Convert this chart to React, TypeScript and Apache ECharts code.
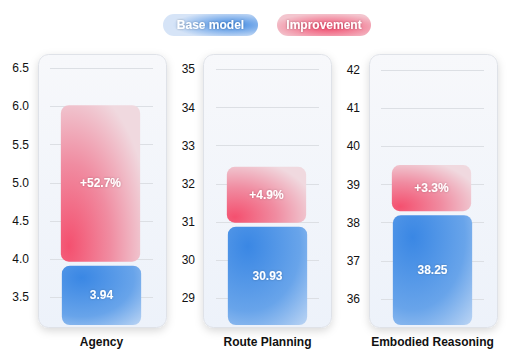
import React, { useEffect, useRef } from 'react';
import * as echarts from 'echarts';

const categories = ['Agency', 'Route Planning', 'Embodied Reasoning'];
const baseValues = [3.94, 30.93, 38.25];
const improvementPct = [52.7, 4.9, 3.3];
const yTicks = [
  [3.5, 4.0, 4.5, 5.0, 5.5, 6.0, 6.5],
  [29, 30, 31, 32, 33, 34, 35],
  [36, 37, 38, 39, 40, 41, 42],
];
const yMin = [3.137, 28.3, 35.32];
const yMax = [6.661, 35.35, 42.37];
const tickDecimals = [1, 0, 0];
const legendNames = ['Base model', 'Improvement'];

const FONT = '"Liberation Sans", Arial, Helvetica, sans-serif';

const gridLeft = [50, 216, 381];
const gridWidth = 103;
const gridTop = 56;
const gridHeight = 269;
const cardLeft = [38, 203, 369];
const cardWidth = 128;
const cardTop = 54;
const cardHeight = 273;

const blueFill = {
  type: 'radial', x: 0.25, y: 0.2, r: 1.1,
  colorStops: [
    { offset: 0, color: '#3a87e4' },
    { offset: 0.6, color: '#68a4ea' },
    { offset: 1, color: '#bcd5f4' },
  ],
};
const redFill = {
  type: 'radial', x: 0.1, y: 0.9, r: 1.05,
  colorStops: [
    { offset: 0, color: '#f4506f' },
    { offset: 0.5, color: '#f08ca1' },
    { offset: 1, color: '#f0d9df' },
  ],
};

function barLabel(text: string, cx: number, cy: number) {
  return {
    type: 'text',
    style: {
      text, x: cx, y: cy, align: 'center', verticalAlign: 'middle',
      fill: '#ffffff', fontSize: 12, fontWeight: 'bold', fontFamily: FONT,
      textShadowColor: 'rgba(0,0,0,0.25)', textShadowBlur: 2,
    },
  };
}

export default function App() {
  const ref = useRef<HTMLDivElement>(null);
  useEffect(() => {
    if (!ref.current) return;
    const chart = echarts.init(ref.current, null, { renderer: 'svg' });

    const grids: any[] = [];
    const xAxes: any[] = [];
    const yAxes: any[] = [];
    const series: any[] = [];
    const graphics: any[] = [];

    categories.forEach((cat, i) => {
      grids.push({ left: gridLeft[i], width: gridWidth, top: gridTop, height: gridHeight, containLabel: false });
      xAxes.push({
        type: 'category', gridIndex: i, data: [cat],
        axisLine: { show: false }, axisTick: { show: false },
        axisLabel: { fontSize: 12, fontWeight: 'bold', color: '#111111', fontFamily: FONT, margin: 11 },
        z: 3,
      });
      yAxes.push({
        type: 'value', gridIndex: i, min: yMin[i], max: yMax[i],
        axisLine: { show: false },
        axisTick: { show: false, customValues: yTicks[i] },
        axisLabel: {
          customValues: yTicks[i], fontSize: 12, color: '#111111', fontFamily: FONT, margin: 21,
          formatter: (v: number) => v.toFixed(tickDecimals[i]),
        },
        splitLine: { show: true, lineStyle: { color: '#dcdfe4', width: 1 } },
        z: 3,
      });
      const top = baseValues[i] * (1 + improvementPct[i] / 100);
      series.push({
        name: legendNames[0], type: 'custom', xAxisIndex: i, yAxisIndex: i, z: 5,
        data: [[0, baseValues[i]]],
        renderItem: (params: any, api: any) => {
          const cs = params.coordSys;
          const p = api.coord([api.value(0), api.value(1)]);
          const w = api.size([1, 0])[0] * 0.77;
          const y0 = p[1] + 2;
          const y1 = cs.y + cs.height;
          return {
            type: 'group',
            children: [
              { type: 'rect', shape: { x: p[0] - w / 2, y: y0, width: w, height: y1 - y0, r: 8 }, style: { fill: blueFill } },
              barLabel(String(api.value(1)), p[0], (y0 + y1) / 2),
            ],
          };
        },
      });
      series.push({
        name: legendNames[1], type: 'custom', xAxisIndex: i, yAxisIndex: i, z: 5,
        data: [[0, baseValues[i], top, improvementPct[i]]],
        renderItem: (params: any, api: any) => {
          const pLo = api.coord([api.value(0), api.value(1)]);
          const pHi = api.coord([api.value(0), api.value(2)]);
          const w = api.size([1, 0])[0] * 0.77;
          const y0 = pHi[1];
          const y1 = pLo[1] - 2;
          return {
            type: 'group',
            children: [
              { type: 'rect', shape: { x: pHi[0] - w / 2 - 1, y: y0, width: w, height: y1 - y0, r: 8 }, style: { fill: redFill } },
              barLabel('+' + api.value(3).toFixed(1) + '%', pHi[0] - 1, (y0 + y1) / 2),
            ],
          };
        },
      });
      graphics.push({
        type: 'rect', z: -5, left: cardLeft[i], top: cardTop,
        shape: { width: cardWidth, height: cardHeight, r: 10 },
        style: {
          fill: {
            type: 'linear', x: 0, y: 0, x2: 0, y2: 1,
            colorStops: [{ offset: 0, color: '#f7f8fb' }, { offset: 1, color: '#edf2fa' }],
          },
          stroke: '#dfe2e8', lineWidth: 1,
          shadowBlur: 9, shadowColor: 'rgba(0,0,0,0.15)', shadowOffsetY: 3,
        },
      });
    });

    const pills = [
      { x: 163, w: 95, fill: {
        type: 'radial', x: 0.72, y: 0.5, r: 0.62,
        colorStops: [{ offset: 0, color: '#3a86e2' }, { offset: 1, color: '#d6e4f7' }],
      } },
      { x: 277, w: 94, fill: {
        type: 'radial', x: 0.55, y: 0.6, r: 0.62,
        colorStops: [{ offset: 0, color: '#f2476a' }, { offset: 1, color: '#f3c5ce' }],
      } },
    ];
    pills.forEach((p, k) => {
      graphics.push({
        type: 'group', left: p.x, top: 14, z: 10,
        children: [
          { type: 'rect', shape: { x: 0, y: 0, width: p.w, height: 22, r: 11 }, style: { fill: p.fill } },
          {
            type: 'text', x: p.w / 2, y: 11,
            style: {
              text: legendNames[k], align: 'center', verticalAlign: 'middle',
              fill: '#ffffff', fontSize: 12, fontWeight: 'bold', fontFamily: FONT,
              textShadowColor: 'rgba(0,0,0,0.3)', textShadowBlur: 2,
            },
          },
        ],
      });
    });

    chart.setOption({
      animation: false,
      backgroundColor: '#ffffff',
      grid: grids,
      xAxis: xAxes,
      yAxis: yAxes,
      series,
      graphic: graphics,
    });
    return () => chart.dispose();
  }, []);
  return <div ref={ref} style={{ position: 'absolute', left: 0, top: 0, width: 523, height: 363 }} />;
}
